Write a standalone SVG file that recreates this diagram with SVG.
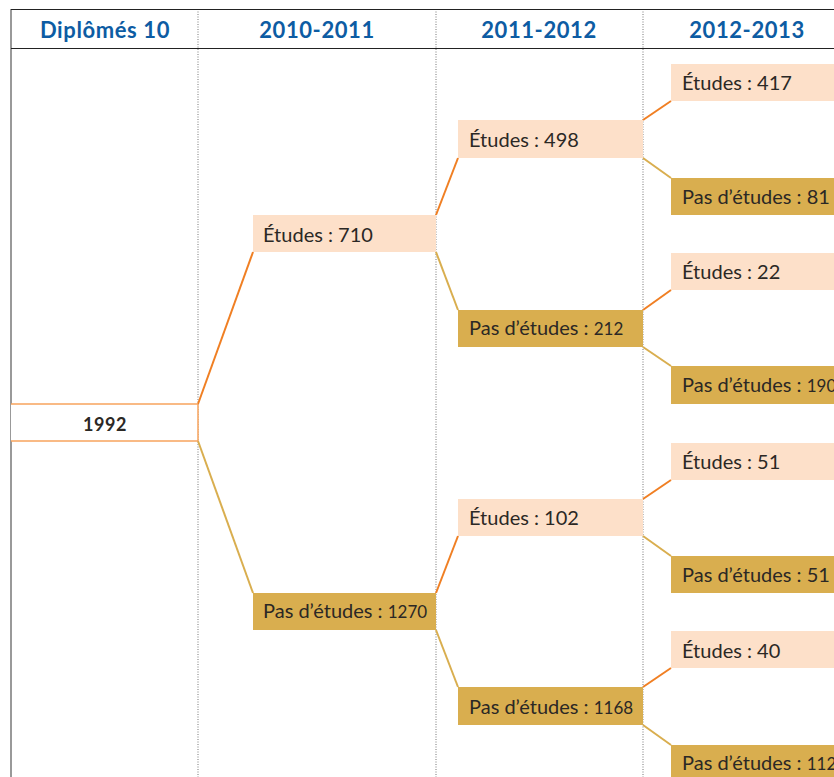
<svg xmlns="http://www.w3.org/2000/svg" width="834" height="777" viewBox="0 0 834 777">
<style>
.hd{font-family:"Lato","Open Sans",sans-serif;font-weight:bold;font-size:22px;fill:#0d5ca3;text-anchor:middle;letter-spacing:0.6px}
.t{font-family:"Lato","Open Sans",sans-serif;font-size:20px;fill:#2b2825}
.n{font-size:17px}
.et{fill:#fde0c9}
.pe{fill:#d9ae4f}
.o{stroke:#f07f23;stroke-width:2;fill:none}
.g{stroke:#d9ae4f;stroke-width:2;fill:none}
.sep{stroke:#777;stroke-width:1;stroke-dasharray:1 1.5}
</style>
<rect width="834" height="777" fill="#fff"/>
<g id="grid">
<line x1="11" y1="9" x2="11" y2="777" stroke="#777" stroke-width="1.5"/>
<line x1="198" y1="9" x2="198" y2="777" class="sep"/>
<line x1="436" y1="9" x2="436" y2="777" class="sep"/>
<line x1="643" y1="9" x2="643" y2="777" class="sep"/>
<line x1="11" y1="9.5" x2="834" y2="9.5" stroke="#222" stroke-width="1.2"/>
<line x1="11" y1="48.5" x2="834" y2="48.5" stroke="#222" stroke-width="1.2"/>
</g>
<g id="headers">
<text class="hd" x="105" y="38">Diplômés 10</text>
<text class="hd" x="317" y="38">2010-2011</text>
<text class="hd" x="539" y="38">2011-2012</text>
<text class="hd" x="747" y="38">2012-2013</text>
</g>
<g id="connectors">
<line class="o" x1="198" y1="404" x2="253" y2="252"/>
<line class="g" x1="198" y1="441" x2="253" y2="593"/>
<line class="o" x1="436" y1="215" x2="458" y2="158"/>
<line class="g" x1="436" y1="252" x2="458" y2="310"/>
<line class="o" x1="436" y1="593" x2="458" y2="536"/>
<line class="g" x1="436" y1="630" x2="458" y2="687"/>
<line class="o" x1="643" y1="120" x2="671" y2="101"/>
<line class="g" x1="643" y1="158" x2="671" y2="178"/>
<line class="o" x1="643" y1="310" x2="671" y2="290"/>
<line class="g" x1="643" y1="347" x2="671" y2="366"/>
<line class="o" x1="643" y1="499" x2="671" y2="480"/>
<line class="g" x1="643" y1="536" x2="671" y2="556"/>
<line class="o" x1="643" y1="687" x2="671" y2="668"/>
<line class="g" x1="643" y1="725" x2="671" y2="745"/>
</g>
<g id="n1992">
<rect x="11" y="404" width="187" height="37" fill="#fff"/>
<line x1="11" y1="404" x2="198" y2="404" stroke="#f7a35c" stroke-width="1.5"/>
<line x1="11" y1="441" x2="198" y2="441" stroke="#f7a35c" stroke-width="1.5"/>
<line x1="198" y1="404" x2="198" y2="441" stroke="#f7a35c" stroke-width="1.5"/>
<text x="105" y="431" font-family="Lato,'Open Sans',sans-serif" font-weight="bold" font-size="18" fill="#2b2825" text-anchor="middle" letter-spacing="0.5">1992</text>
</g>
<g id="e710"><rect class="et" x="253" y="215" width="183" height="37"/><text class="t" x="263" y="242">Études : 710</text></g>
<g id="p1270"><rect class="pe" x="253" y="593" width="183" height="37"/><text class="t" x="263" y="618" font-size="18">Pas d’études : <tspan class="n">1270</tspan></text></g>
<g id="e498"><rect class="et" x="458" y="120" width="185" height="38"/><text class="t" x="469" y="147">Études : 498</text></g>
<g id="p212"><rect class="pe" x="458" y="310" width="185" height="37"/><text class="t" x="469" y="335">Pas d’études : <tspan class="n">212</tspan></text></g>
<g id="e102"><rect class="et" x="458" y="499" width="185" height="37"/><text class="t" x="469" y="525">Études : 102</text></g>
<g id="p1168"><rect class="pe" x="458" y="687" width="185" height="38"/><text class="t" x="469" y="714">Pas d’études : <tspan class="n">1168</tspan></text></g>
<g id="e417"><rect class="et" x="671" y="64" width="163" height="37"/><text class="t" x="682" y="90">Études : 417</text></g>
<g id="p81"><rect class="pe" x="671" y="178" width="163" height="37"/><text class="t" x="682" y="204">Pas d’études : 81</text></g>
<g id="e22"><rect class="et" x="671" y="253" width="163" height="37"/><text class="t" x="682" y="279">Études : 22</text></g>
<g id="p190"><rect class="pe" x="671" y="366" width="163" height="38"/><text class="t" x="682" y="392">Pas d’études : <tspan class="n">190</tspan></text></g>
<g id="e51"><rect class="et" x="671" y="443" width="163" height="37"/><text class="t" x="682" y="469">Études : 51</text></g>
<g id="p51"><rect class="pe" x="671" y="556" width="163" height="37"/><text class="t" x="682" y="582">Pas d’études : 51</text></g>
<g id="e40"><rect class="et" x="671" y="631" width="163" height="37"/><text class="t" x="682" y="658">Études : 40</text></g>
<g id="p1128"><rect class="pe" x="671" y="745" width="163" height="32"/><text class="t" x="682" y="770">Pas d’études : <tspan class="n">1128</tspan></text></g>
</svg>
